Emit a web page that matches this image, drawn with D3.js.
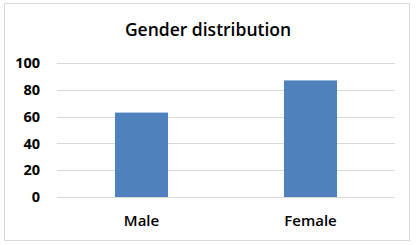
<!DOCTYPE html>
<html lang="en">
<head>
<meta charset="utf-8">
<script src="https://d3js.org/d3.v7.min.js"></script>
<style>
  body { margin: 0; background: #fff; }
  svg { display: block; font-family: "Open Sans", "DejaVu Sans", sans-serif; }
</style>
</head>
<body>
<svg id="chart" width="416" height="245"></svg>
<script>
// data
var categories = ["Male", "Female"];
var counts = [63, 87];
var yTicks = [0, 20, 40, 60, 80, 100];
var chartTitle = "Gender distribution";

var svg = d3.select("#chart");
var margin = { top: 63, right: 21, bottom: 48, left: 57 };
var width = 416 - margin.left - margin.right;
var height = 245 - margin.top - margin.bottom;

// outer frame
svg.append("rect")
   .attr("x", 4.5).attr("y", 3.5)
   .attr("width", 405).attr("height", 237)
   .attr("fill", "#fff")
   .attr("stroke", "#d9d9d9");

svg.append("text")
   .attr("x", 208).attr("y", 36)
   .attr("text-anchor", "middle")
   .attr("font-size", 17.5)
   .attr("font-weight", 600)
   .attr("fill", "#000")
   .text(chartTitle);

var g = svg.append("g")
   .attr("transform", `translate(${margin.left},${margin.top})`);

var x = d3.scaleBand()
   .domain(categories)
   .range([0, width])
   .paddingInner(0.686)
   .paddingOuter(0.343);

var y = d3.scaleLinear()
   .domain([0, 100])
   .range([height, 0]);

// gridlines
g.selectAll(".grid")
   .data(yTicks)
   .enter()
   .append("line")
   .attr("class", "grid")
   .attr("x1", 0).attr("x2", width)
   .attr("y1", d => Math.round(y(d)) + 0.5)
   .attr("y2", d => Math.round(y(d)) + 0.5)
   .attr("stroke", "#d9d9d9")
   .attr("stroke-width", 1);

// y axis labels
var yAxis = g.append("g")
   .call(d3.axisLeft(y).tickValues(yTicks).tickSize(0).tickPadding(17));
yAxis.select(".domain").remove();
yAxis.selectAll("text")
   .attr("font-size", 14.5)
   .attr("font-weight", "bold")
   .attr("font-family", "\"Open Sans\", sans-serif")
   .attr("fill", "#000");

// bars
g.selectAll(".bar")
   .data(counts)
   .enter()
   .append("rect")
   .attr("class", "bar")
   .attr("x", (d, i) => x(categories[i]))
   .attr("y", d => y(d))
   .attr("width", x.bandwidth())
   .attr("height", d => height - y(d))
   .attr("fill", "#4f81bd");

// x axis labels
var xAxis = g.append("g")
   .attr("transform", `translate(0,${height})`)
   .call(d3.axisBottom(x).tickSize(0).tickPadding(18));
xAxis.select(".domain").remove();
xAxis.selectAll("text")
   .attr("font-size", 15)
   .attr("font-weight", 600)
   .attr("font-family", "\"Open Sans\", sans-serif")
   .attr("fill", "#000");
</script>
</body>
</html>
